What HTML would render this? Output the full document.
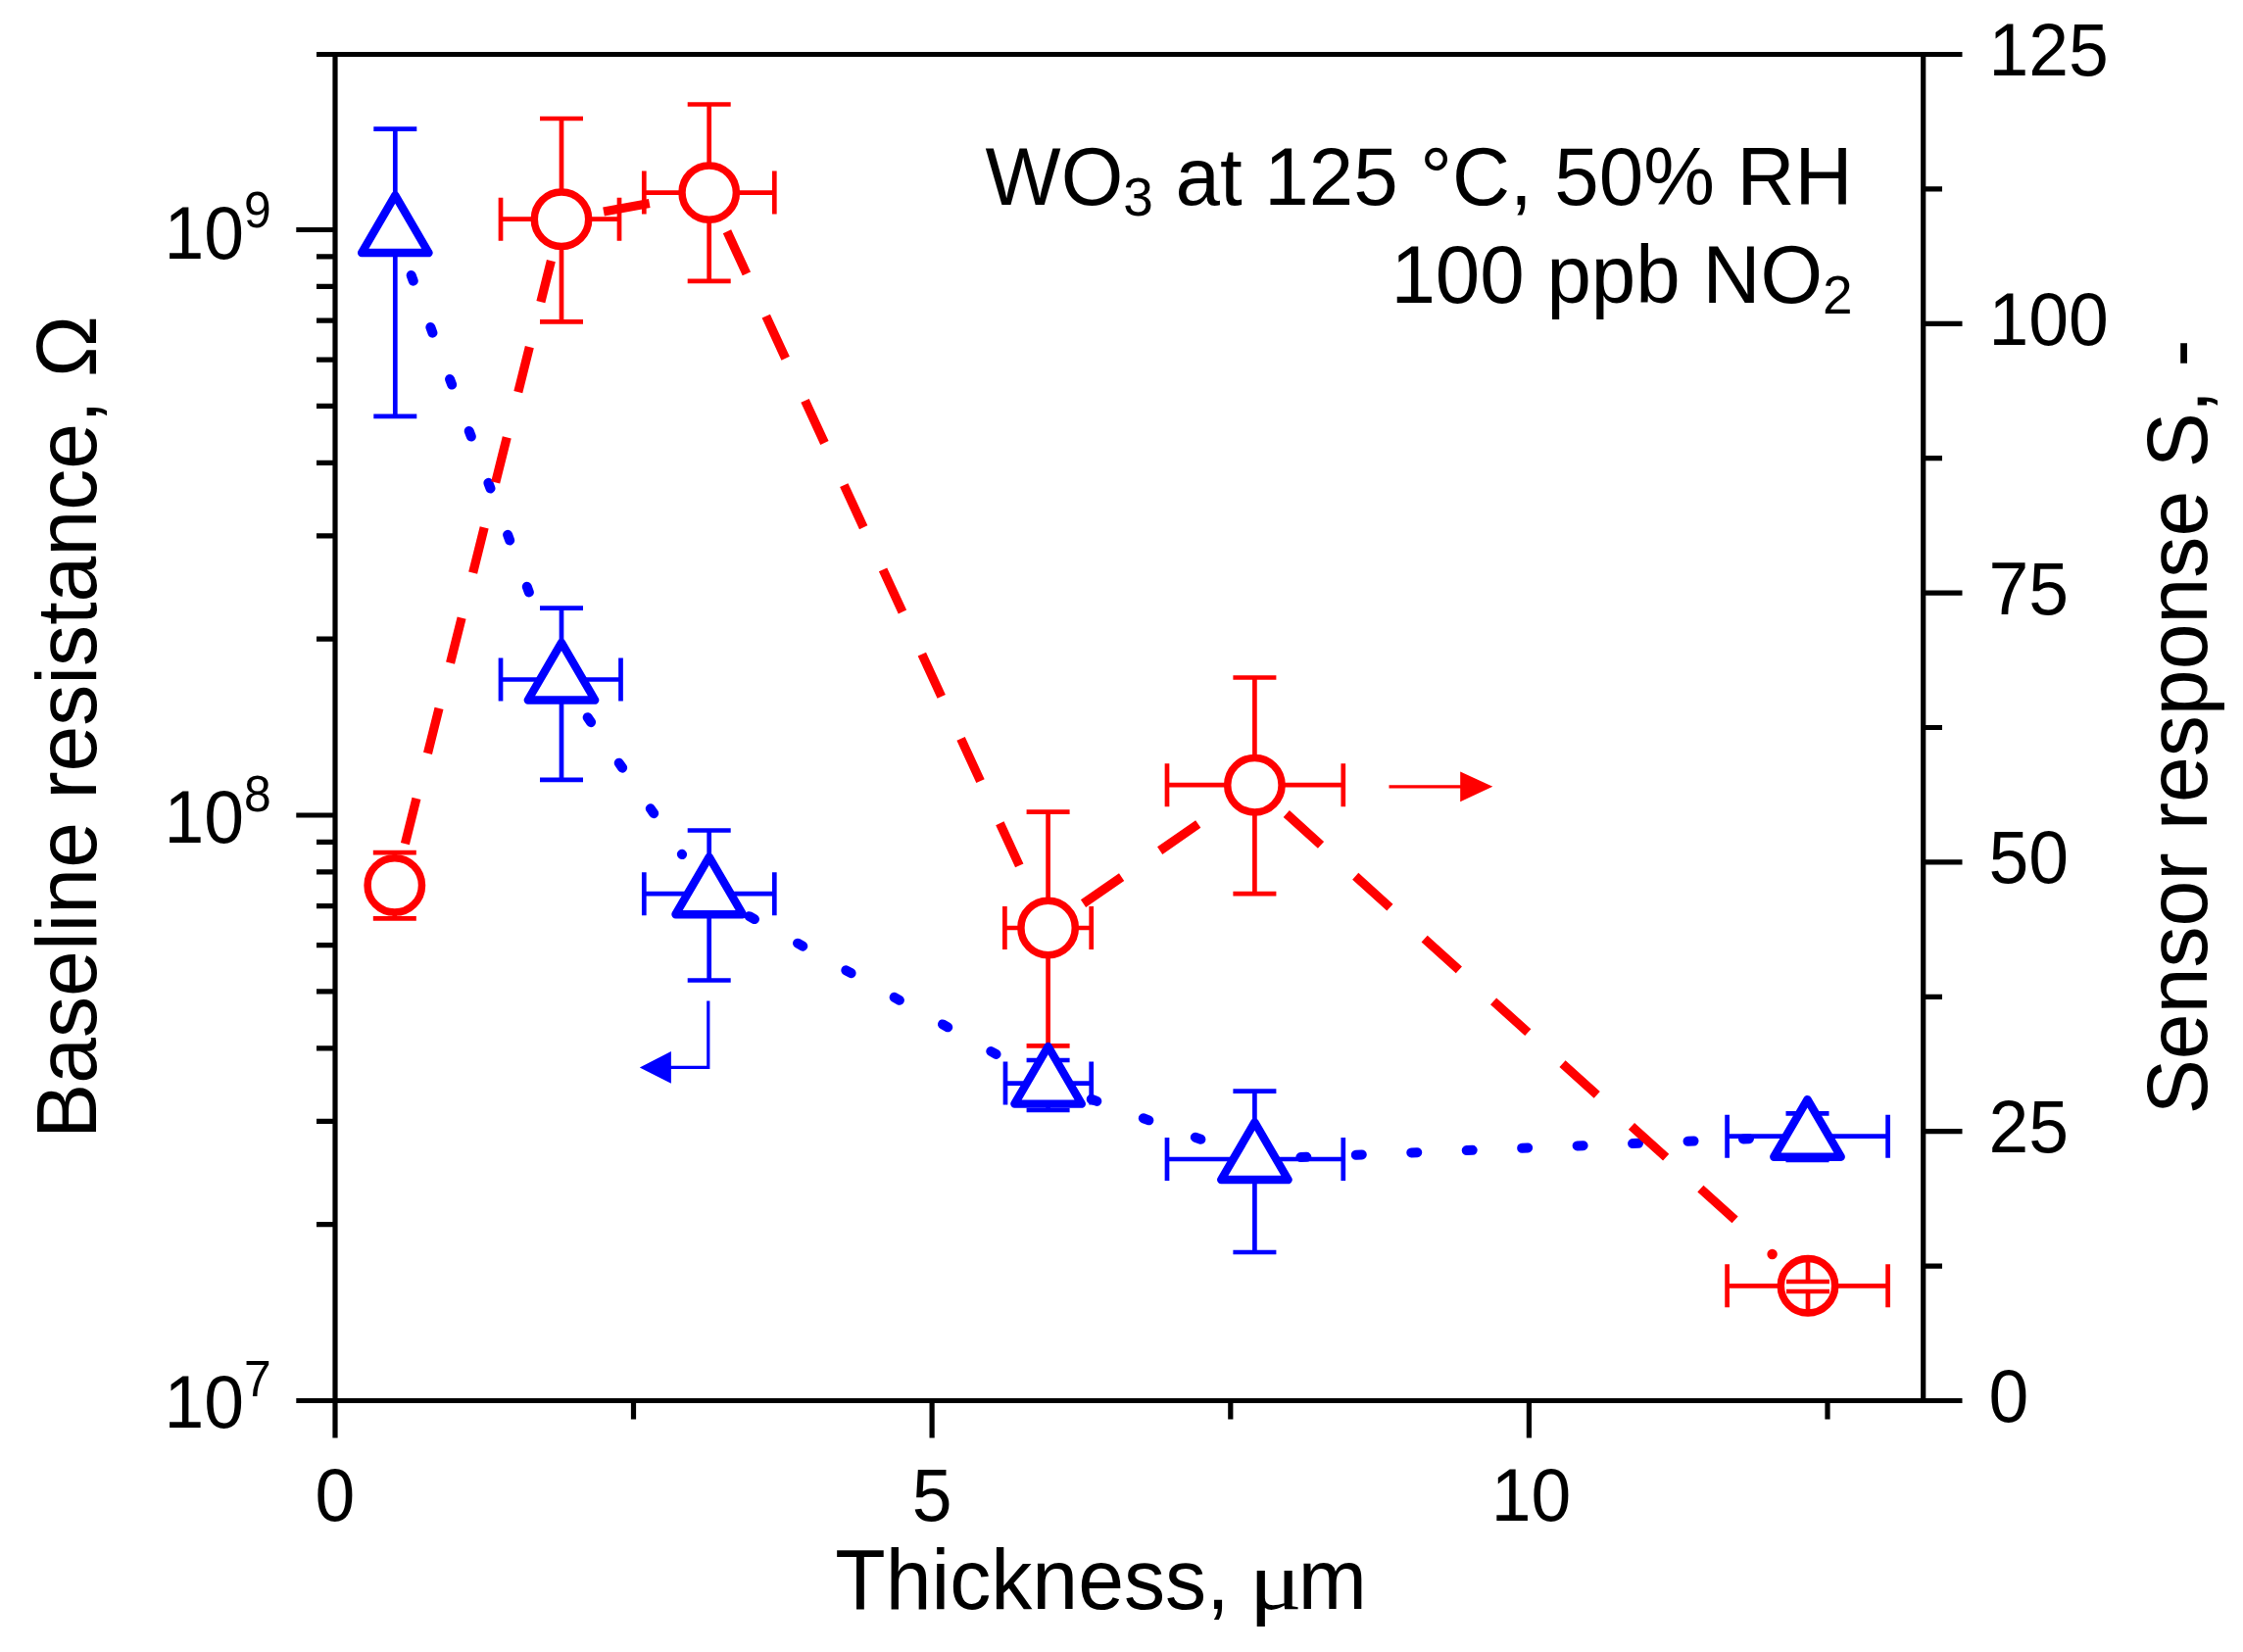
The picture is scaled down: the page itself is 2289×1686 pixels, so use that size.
<!DOCTYPE html>
<html><head><meta charset="utf-8"><title>WO3 sensor chart</title>
<style>html,body{margin:0;padding:0;background:#fff}svg{display:block}</style>
</head><body>
<svg width="2289" height="1686" viewBox="0 0 2289 1686">
<rect width="2289" height="1686" fill="#fff"/>
<g stroke="#0000ff" stroke-width="4.7" fill="none">
<path d="M403.3,131.7V424.8M381.3,131.7H425.3M381.3,424.8H425.3"/>
<path d="M573.0,620.6V795.9M551.0,620.6H595.0M551.0,795.9H595.0M511.0,693.5H633.5M511.0,671.5V715.5M633.5,671.5V715.5"/>
<path d="M723.7,847.5V1000.5M701.7,847.5H745.7M701.7,1000.5H745.7M657.3,912.2H790.3M657.3,890.2V934.2M790.3,890.2V934.2"/>
<path d="M1069.6,1082.0V1133.0M1047.6,1082.0H1091.6M1047.6,1133.0H1091.6M1026.0,1105.6H1113.7M1026.0,1083.6V1127.6M1113.7,1083.6V1127.6"/>
<path d="M1280.4,1113.7V1278.0M1258.4,1113.7H1302.4M1258.4,1278.0H1302.4M1191.0,1183.0H1370.8M1191.0,1161.0V1205.0M1370.8,1161.0V1205.0"/>
<path d="M1844.5,1136.4V1183.8M1822.5,1136.4H1866.5M1822.5,1183.8H1866.5M1762.6,1159.7H1926.6M1762.6,1137.7V1181.7M1926.6,1137.7V1181.7"/>
</g>
<g stroke="#ff0000" stroke-width="4.7" fill="none">
<path d="M402.8,870.2V937.3M380.8,870.2H424.8M380.8,937.3H424.8"/>
<path d="M573.0,121.0V328.3M551.0,121.0H595.0M551.0,328.3H595.0M511.0,223.7H632.0M511.0,201.7V245.7M632.0,201.7V245.7"/>
<path d="M723.7,106.5V286.8M701.7,106.5H745.7M701.7,286.8H745.7M657.3,196.6H790.3M657.3,174.6V218.6M790.3,174.6V218.6"/>
<path d="M1069.6,828.6V1067.4M1047.6,828.6H1091.6M1047.6,1067.4H1091.6M1025.4,947.0H1113.7M1025.4,925.0V969.0M1113.7,925.0V969.0"/>
<path d="M1280.4,691.5V912.2M1258.4,691.5H1302.4M1258.4,912.2H1302.4M1191.0,801.2H1370.8M1191.0,779.2V823.2M1370.8,779.2V823.2"/>
<path d="M1845.0,1308.0V1318.0M1823.0,1308.0H1867.0M1823.0,1318.0H1867.0M1762.6,1312.3H1926.6M1762.6,1290.3V1334.3M1926.6,1290.3V1334.3"/>
</g>
<g stroke="#0000ff" stroke-width="10" fill="none" stroke-linecap="round" stroke-dasharray="6 50.5">
<path d="M419.68,281.05L556.03,647.85"/>
<path d="M599.67,732.20L696.07,872.10"/>
<path d="M764.72,935.14L1027.09,1081.83"/>
<path d="M1113.72,1121.80L1234.68,1166.21"/>
<path d="M1327.36,1181.06L1795.84,1161.71"/>
</g>
<g stroke="#ff0000" stroke-width="9.2" fill="none" stroke-linecap="butt" stroke-dasharray="47.5 47.5">
<path d="M413.41,861.01L562.39,266.09"/>
<path d="M616.01,215.97L680.69,204.33"/>
<path d="M741.99,236.29L1051.31,907.31"/>
<path d="M1105.54,922.14L1244.46,826.06"/>
</g>
<g stroke="#ff0000" stroke-width="9.2" fill="none" stroke-linecap="butt" stroke-dasharray="47.5 47.5">
<path d="M1312.80,830.53L1800.52,1272.03"/>
</g>
<circle cx="1808.6" cy="1280.0" r="5.2" fill="#ff0000"/>
<g stroke="#0000ff" stroke-width="8.4" fill="#fff" stroke-linejoin="round">
<path d="M403.3,199.4L437.5,258.0L369.1,258.0Z"/>
<path d="M573.0,655.9L607.2,714.5L538.8,714.5Z"/>
<path d="M723.7,874.6L757.9,933.2L689.5,933.2Z"/>
<path d="M1069.6,1068.0L1103.8,1126.6L1035.4,1126.6Z"/>
<path d="M1280.4,1145.4L1314.6,1204.0L1246.2,1204.0Z"/>
<path d="M1844.5,1122.1L1878.7,1180.7L1810.3,1180.7Z"/>
</g>
<g stroke="#ff0000" stroke-width="7.5" fill="#fff">
<circle cx="402.8" cy="903.4" r="27.7"/>
<circle cx="573.0" cy="223.7" r="27.7"/>
<circle cx="723.7" cy="196.6" r="27.7"/>
<circle cx="1069.6" cy="947.0" r="27.7"/>
<circle cx="1280.4" cy="801.2" r="27.7"/>
<circle cx="1845.0" cy="1312.3" r="27.7"/>
</g>
<path stroke="#ff0000" stroke-width="4.7" fill="none" d="M1845.0,1285.3V1308.0M1845.0,1318.0V1339.3M1823.0,1308.0H1867.0M1823.0,1318.0H1867.0"/>
<g stroke="#ff0000" stroke-width="3.2" fill="#ff0000"><path d="M1417.5,802.8H1492" fill="none"/><path d="M1523.3,802.8L1490.2,787.4V818.2Z" stroke="none"/></g>
<g stroke="#0000ff" stroke-width="3.2" fill="#0000ff"><path d="M722.8,1021.4V1089.4H684" fill="none"/><path d="M652.8,1089.4L684.9,1073V1105.8Z" stroke="none"/></g>
<g stroke="#000" stroke-width="5.2" fill="none" stroke-linecap="butt">
<path d="M342.0,52.9V1467.5"/>
<path d="M1962.7,52.9V1432.1"/>
<path d="M323,55.5H2002.5"/>
<path d="M302.3,1429.5H2002.5"/>
<path d="M323.0,1249.6H342.0M323.0,1144.4H342.0M323.0,1069.8H342.0M323.0,1011.9H342.0M323.0,964.6H342.0M323.0,924.6H342.0M323.0,889.9H342.0M323.0,859.3H342.0M302.3,832.0H342.0M323.0,652.1H342.0M323.0,546.9H342.0M323.0,472.3H342.0M323.0,414.4H342.0M323.0,367.1H342.0M323.0,327.1H342.0M323.0,292.4H342.0M323.0,261.8H342.0M302.3,234.5H342.0"/>
<path d="M1962.7,1292.1H1982.0M1962.7,1154.7H2002.5M1962.7,1017.3H1982.0M1962.7,879.9H2002.5M1962.7,742.5H1982.0M1962.7,605.1H2002.5M1962.7,467.7H1982.0M1962.7,330.3H2002.5M1962.7,192.9H1982.0"/>
<path d="M646.5,1429.5V1448.5M951.1,1429.5V1467.5M1255.8,1429.5V1448.5M1560.4,1429.5V1467.5M1865.0,1429.5V1448.5"/>
</g>
<g font-family="Liberation Sans, Arial, sans-serif" fill="#000">
<text transform="translate(2029.5,1451.0) scale(0.96,1)" font-size="76.32">0</text>
<text transform="translate(2029.5,1176.2) scale(0.96,1)" font-size="76.32">25</text>
<text transform="translate(2029.5,901.4) scale(0.96,1)" font-size="76.32">50</text>
<text transform="translate(2029.5,626.6) scale(0.96,1)" font-size="76.32">75</text>
<text transform="translate(2029.5,351.8) scale(0.96,1)" font-size="76.32">100</text>
<text transform="translate(2029.5,77.0) scale(0.96,1)" font-size="76.32">125</text>
<text transform="translate(341.9,1552.3) scale(0.96,1)" font-size="76.32" text-anchor="middle">0</text>
<text transform="translate(951.1,1552.3) scale(0.96,1)" font-size="76.32" text-anchor="middle">5</text>
<text transform="translate(1562.4,1552.3) scale(0.96,1)" font-size="76.32" text-anchor="middle">10</text>
<text transform="translate(167.5,1456.7) scale(0.96,1)" font-size="76.32">10<tspan font-size="51.9" dy="-31.8">7</tspan></text>
<text transform="translate(167.5,859.6) scale(0.96,1)" font-size="76.32">10<tspan font-size="51.9" dy="-31.8">8</tspan></text>
<text transform="translate(167.5,264.1) scale(0.96,1)" font-size="76.32">10<tspan font-size="51.9" dy="-31.8">9</tspan></text>
<text transform="translate(852.2,1641.6) scale(0.9665,1)" font-size="87.13">Thickness,</text>
<text transform="translate(1274.4,1641.6) scale(1.19,1)" font-family="Liberation Serif, serif" font-size="85">μ</text>
<text transform="translate(1324.8,1641.6) scale(0.9665,1)" font-size="87.13">m</text>
<text transform="translate(98.4,1162.0) rotate(-90) scale(0.9665,1)" font-size="87.13">Baseline resistance, Ω</text>
<text transform="translate(2251.5,1137.3) rotate(-90) scale(0.9665,1)" font-size="87.13">Sensor response S, -</text>
<text transform="translate(1890.5,209.3) scale(0.978,1)" font-size="83.53" text-anchor="end">WO<tspan font-size="56.2" dy="11">3</tspan><tspan dy="-11"> at 125 °C, 50% RH</tspan></text>
<text transform="translate(1890.5,308.5) scale(0.978,1)" font-size="83.53" text-anchor="end">100 ppb NO<tspan font-size="56.2" dy="11">2</tspan></text>
</g>
</svg>
</body></html>
